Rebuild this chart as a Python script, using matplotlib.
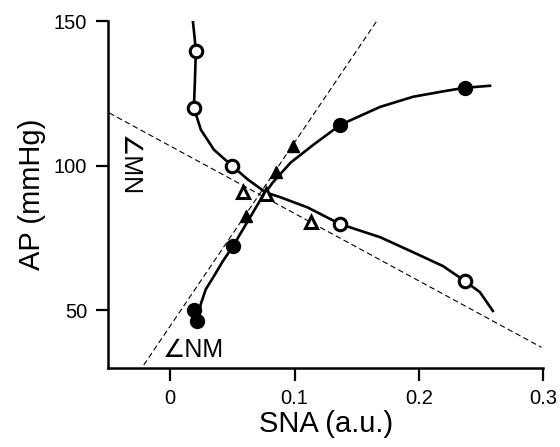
import matplotlib
matplotlib.use("Agg")
import matplotlib.pyplot as plt

plt.rcParams['font.family'] = ['Liberation Sans', 'DejaVu Sans']

# Filled-circle series (markers) and its fitted curve
fc_x = [0.0192, 0.0219, 0.0505, 0.1369, 0.2371]
fc_y = [50.1, 46.3, 72.0, 114.1, 126.8]
fcurve_x = [0.0220, 0.0246, 0.0286, 0.0351, 0.0423, 0.0505, 0.0623, 0.0728, 0.0824,
            0.0968, 0.1152, 0.1369, 0.1689, 0.1954, 0.2227, 0.2371, 0.2572]
fcurve_y = [46.3, 52.1, 57.2, 61.7, 66.9, 72.1, 80.7, 88.3, 94.1,
            101.0, 107.2, 114.1, 120.3, 123.8, 125.9, 126.9, 127.6]

# Open-circle series and its curve
oc_x = [0.0207, 0.0190, 0.0495, 0.1369, 0.2371]
oc_y = [139.7, 120.0, 100.0, 79.7, 60.0]
ocurve_x = [0.0182, 0.0198, 0.0206, 0.0198, 0.0190, 0.0246, 0.0351, 0.0495, 0.0623, 0.0768,
            0.0888, 0.1105, 0.1369, 0.1689, 0.1954, 0.2195, 0.2371, 0.2491, 0.2595]
ocurve_y = [150.0, 143.4, 139.7, 128.6, 120.0, 112.4, 105.5, 100.0, 95.2, 90.7,
            89.0, 85.5, 79.7, 75.2, 70.0, 65.2, 60.0, 56.2, 49.7]

# Triangles
ft_x = [0.0607, 0.0847, 0.0985]
ft_y = [82.4, 97.6, 106.6]
ot_x = [0.0583, 0.0770, 0.1129]
ot_y = [91.0, 90.3, 80.3]

# Dashed reference lines
steep_x = [-0.0213, 0.1663]
steep_y = [31.0, 150.1]
shallow_x = [-0.0491, 0.2986]
shallow_y = [118.2, 37.1]

xticks = [0, 0.1, 0.2, 0.3]
xticklabels = ['0', '0.1', '0.2', '0.3']
yticks = [50, 100, 150]

fig = plt.figure(figsize=(5.6, 4.47), dpi=100)
ax = fig.add_axes([0.193, 0.177, 0.777, 0.776])

ax.plot(steep_x, steep_y, color='black', lw=0.8, ls=(0, (5, 3)))
ax.plot(shallow_x, shallow_y, color='black', lw=0.8, ls=(0, (5, 3)))

ax.plot(fcurve_x, fcurve_y, color='black', lw=1.9, zorder=3)
ax.plot(ocurve_x, ocurve_y, color='black', lw=1.9, zorder=3)

ax.plot(fc_x, fc_y, 'o', color='black', ms=10, zorder=4)
ax.plot(oc_x, oc_y, 'o', mfc='white', mec='black', mew=2.2, ms=9, zorder=4)
ax.plot(ft_x, ft_y, '^', color='black', ms=8.5, zorder=4)
ax.plot(ot_x, ot_y, '^', mfc='white', mec='black', mew=2.2, ms=8.5, zorder=4)

ax.text(-0.006, 33.8, '∠NM', fontsize=18, ha='left', va='baseline')
ax.text(-0.0335, 100, '∠MN', fontsize=18, rotation=-90, ha='center', va='center')

ax.set_xlim(-0.05, 0.3)
ax.set_ylim(30, 150)
ax.set_xticks(xticks)
ax.set_xticklabels(xticklabels)
ax.set_yticks(yticks)

for s in ['top', 'right']:
    ax.spines[s].set_visible(False)
for s in ['left', 'bottom']:
    ax.spines[s].set_linewidth(1.8)
ax.tick_params(direction='out', length=9, width=1.6, labelsize=14.5, pad=6)

ax.set_xlabel('SNA (a.u.)', fontsize=21, labelpad=2)
ax.set_ylabel('AP (mmHg)', fontsize=21, labelpad=6)

fig.savefig('out.png', dpi=100)
